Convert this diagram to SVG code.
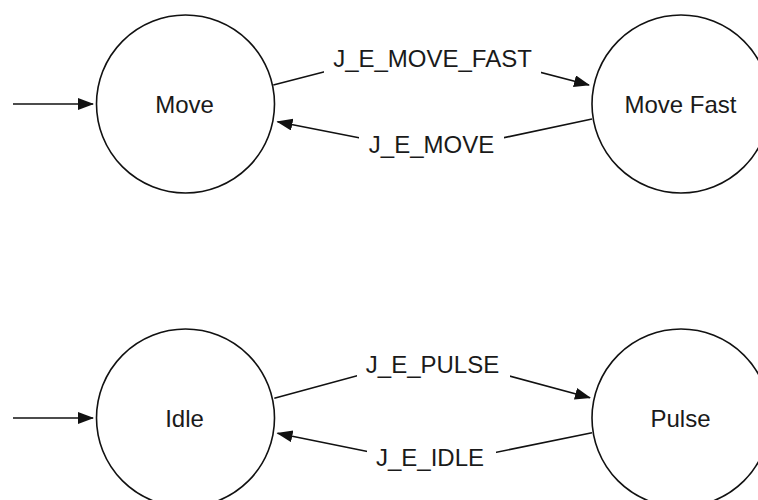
<svg xmlns="http://www.w3.org/2000/svg" width="758" height="500" viewBox="0 0 758 500">
  <defs>
    <style>
      .state { fill: #ffffff; stroke: #111111; stroke-width: 1.6; }
      .edge { fill: none; stroke: #111111; stroke-width: 1.6; }
      .label { font-family: "Liberation Sans", Arial, Helvetica, sans-serif; font-size: 24px; fill: #1a1a1a; text-anchor: middle; }
      .lblbg { fill: #ffffff; stroke: none; }
    </style>
    <marker id="arrow" markerUnits="userSpaceOnUse" markerWidth="18" markerHeight="14" refX="15" refY="6" orient="auto">
      <path d="M0,0 L16,6 L0,12 Z" fill="#111111"/>
    </marker>
  </defs>
  <rect width="758" height="500" fill="#ffffff"/>

  <g id="connectors">
    <path class="edge" d="M13,104 L93,104" marker-end="url(#arrow)"/>
    <path class="edge" d="M13,418 L93,418" marker-end="url(#arrow)"/>
    <path id="e-move-movefast" class="edge" d="M273.3,85 L432,44 L589,85" marker-end="url(#arrow)"/>
    <path id="e-movefast-move" class="edge" d="M592,119 L434,152.5 L277.5,121.8" marker-end="url(#arrow)"/>
    <path id="e-idle-pulse" class="edge" d="M274.3,398.3 L432.5,355.3 L590,397.7" marker-end="url(#arrow)"/>
    <path id="e-pulse-idle" class="edge" d="M592,432.7 L434,465 L277.5,433.3" marker-end="url(#arrow)"/>
  </g>

  <g id="edge-labels">
    <g id="lbl-move-fast">
      <rect class="lblbg" x="324" y="38" width="217" height="39"/>
      <text class="label" x="432.5" y="66.5">J_E_MOVE_FAST</text>
    </g>
    <g id="lbl-move">
      <rect class="lblbg" x="359" y="130" width="145" height="28"/>
      <text class="label" x="431.5" y="153">J_E_MOVE</text>
    </g>
    <g id="lbl-pulse">
      <rect class="lblbg" x="357" y="345" width="153" height="35"/>
      <text class="label" x="432.5" y="373">J_E_PULSE</text>
    </g>
    <g id="lbl-idle">
      <rect class="lblbg" x="367" y="440" width="129" height="32"/>
      <text class="label" x="430" y="466">J_E_IDLE</text>
    </g>
  </g>

  <g id="node-move">
    <circle class="state" cx="185.5" cy="104" r="89"/>
    <text class="label" x="184.5" y="113">Move</text>
  </g>
  <g id="node-movefast">
    <circle class="state" cx="681" cy="104" r="89"/>
    <text class="label" x="680.5" y="113">Move Fast</text>
  </g>
  <g id="node-idle">
    <circle class="state" cx="185.5" cy="418" r="89"/>
    <text class="label" x="184.5" y="427">Idle</text>
  </g>
  <g id="node-pulse">
    <circle class="state" cx="681" cy="418" r="89"/>
    <text class="label" x="680.5" y="427">Pulse</text>
  </g>
</svg>
